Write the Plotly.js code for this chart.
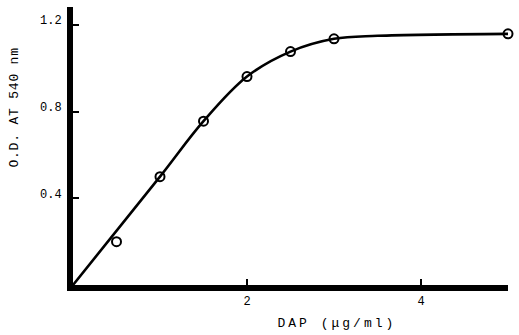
<!DOCTYPE html>
<html>
<head>
<meta charset="utf-8">
<script src="https://cdn.plot.ly/plotly-3.0.1.min.js"></script>
<style>
  html, body { margin: 0; padding: 0; background: #fff; }
  #chart { width: 519px; height: 335px; }
</style>
</head>
<body>
<div id="chart"></div>
<script>
// Measured points
const dapConc = [0.5, 1.0, 1.5, 2.0, 2.5, 3.0, 5.0];
const odValues = [0.20, 0.50, 0.756, 0.962, 1.077, 1.136, 1.159];

// Hand-drawn fitted curve
const curveX = [0, 1.0, 1.5, 2.0, 2.5, 3.0, 3.5, 5.0];
const curveY = [0, 0.50, 0.756, 0.962, 1.077, 1.136, 1.150, 1.159];

// Ticks
const xTickVals = [2, 4];
const xTickText = ['2', '4'];
const yTickVals = [0.4, 0.8, 1.2];
const yTickText = ['0.4', '0.8', '1.2'];

const xTitle = 'DAP (μg/ml)';
const yTitle = 'O.D. AT 540 nm';

const mono = 'Liberation Mono, Courier New, monospace';

const traces = [
  {
    x: curveX, y: curveY, type: 'scatter', mode: 'lines',
    line: { color: '#000', width: 2.6, shape: 'spline', smoothing: 1 },
    hoverinfo: 'skip', cliponaxis: false
  },
  {
    x: dapConc, y: odValues, type: 'scatter', mode: 'markers',
    marker: { symbol: 'circle-open', size: 9, color: '#000', line: { width: 2, color: '#000' } },
    cliponaxis: false
  }
];

const L = 73, R = 508, T = 7, B = 285;
const W = R - L, H = B - T;

const layout = {
  width: 519, height: 335,
  margin: { l: L, r: 519 - R, t: T, b: 335 - B },
  paper_bgcolor: '#fff', plot_bgcolor: '#fff',
  showlegend: false,
  xaxis: {
    range: [0, 5],
    showgrid: false, zeroline: false,
    showline: true, linecolor: '#000', linewidth: 6,
    tickmode: 'array', tickvals: xTickVals, ticktext: xTickText,
    ticks: 'inside', ticklen: 6, tickwidth: 2, tickcolor: '#000',
    tickfont: { family: mono, size: 12, color: '#000' }
  },
  yaxis: {
    range: [0, H / 216.7],
    showgrid: false, zeroline: false,
    showline: true, linecolor: '#000', linewidth: 6,
    tickmode: 'array', tickvals: yTickVals, ticktext: yTickText,
    ticks: 'inside', ticklen: 6, tickwidth: 2, tickcolor: '#000',
    ticklabelshift: -5, ticklabelstandoff: 3,
    tickfont: { family: mono, size: 12, color: '#000' }
  },
  annotations: [
    {
      text: xTitle, xref: 'paper', yref: 'paper',
      x: (337 - L) / W, y: -(323 - B) / H,
      xanchor: 'center', yanchor: 'middle', showarrow: false,
      font: { family: mono, size: 13, color: '#000' }
    },
    {
      text: yTitle, xref: 'paper', yref: 'paper',
      x: (14 - L) / W, y: (B - 107) / H,
      xanchor: 'center', yanchor: 'middle', showarrow: false, textangle: -90,
      font: { family: mono, size: 13, color: '#000' }
    }
  ]
};

Plotly.newPlot('chart', traces, layout, { displayModeBar: false, staticPlot: true }).then(function () {
  const anns = document.querySelectorAll('.annotation-text');
  if (anns[0]) anns[0].style.letterSpacing = '3px';
  if (anns[1]) anns[1].style.letterSpacing = '0.8px';
});
</script>
</body>
</html>
